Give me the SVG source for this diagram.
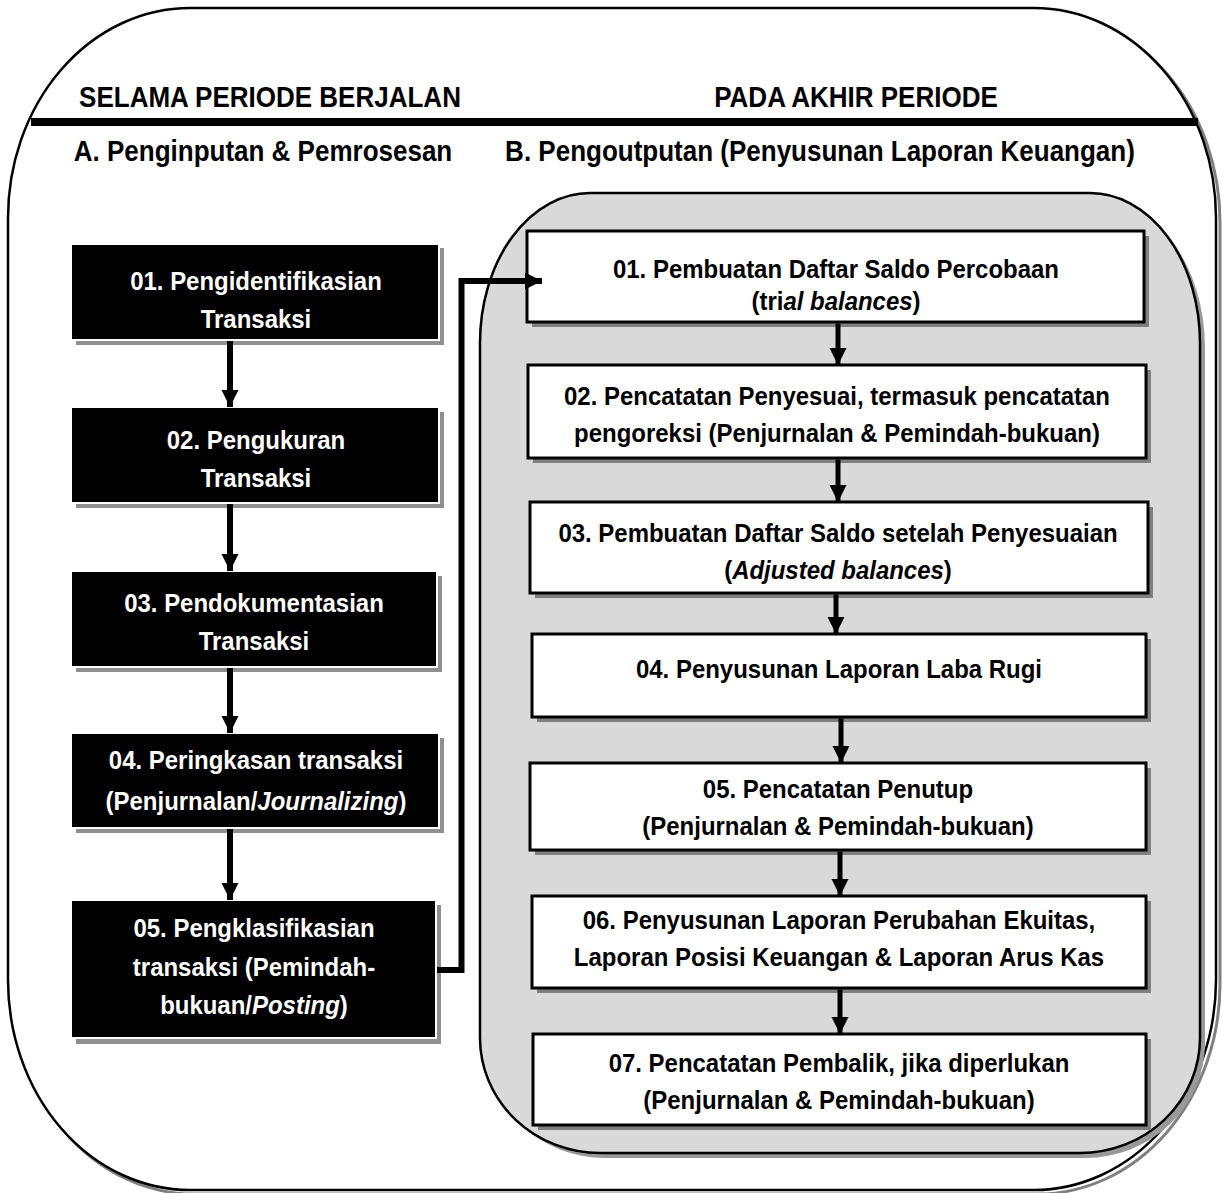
<svg xmlns="http://www.w3.org/2000/svg" width="1222" height="1193" viewBox="0 0 1222 1193">
<style>
  text { font-family: "Liberation Sans", Arial, sans-serif; font-weight: bold; text-anchor: middle; transform-box: fill-box; transform-origin: center; }
  .hdr { font-size: 29px; fill: #000; transform: scale(0.897, 1); }
  .lt { font-size: 25.5px; fill: #fff; transform: scale(0.94, 1); }
  .rt { font-size: 25.5px; fill: #000; transform: scale(0.94, 1); }
  .it { font-style: italic; }
  .lbox { fill: #000; stroke: #fff; stroke-width: 2; }
  .lsh { fill: #8f8f8f; }
  .rbox { fill: #fff; stroke: #000; stroke-width: 3; }
  .rsh { fill: #7f7f7f; }
  .conn { fill: none; stroke: #000; stroke-width: 6; }
  .conn2 { fill: none; stroke: #000; stroke-width: 5; }
</style>
<defs>
  <marker id="ah" markerUnits="userSpaceOnUse" markerWidth="18" markerHeight="18" refX="17" refY="8.5" orient="auto">
    <path d="M0,0 L17,8.5 L0,17 Z" fill="#000"/>
  </marker>
</defs>

<g id="frame">
  <rect x="12" y="12" width="1208" height="1182" rx="182" ry="210" fill="none" stroke="#808080" stroke-width="3"/>
  <rect x="8" y="8" width="1208" height="1182" rx="182" ry="210" fill="#fff" stroke="#000" stroke-width="2.5"/>
  <rect x="31" y="118" width="1167" height="8" fill="#000"/>
  <text class="hdr" x="270" y="107">SELAMA PERIODE BERJALAN</text>
  <text class="hdr" x="856" y="107">PADA AKHIR PERIODE</text>
  <text class="hdr" x="263" y="161">A.  Penginputan &amp; Pemrosesan</text>
  <text class="hdr" x="820" y="161">B. Pengoutputan (Penyusunan Laporan Keuangan)</text>
</g>

<g id="panel">
  <path d="M595,198 H1095 A110,150 0 0 1 1205,348 V1043 A120,115 0 0 1 1085,1158 H605 A120,115 0 0 1 485,1043 V348 A110,150 0 0 1 595,198 Z" fill="#999"/>
  <path d="M590,193 H1090 A110,150 0 0 1 1200,343 V1038 A120,115 0 0 1 1080,1153 H600 A120,115 0 0 1 480,1038 V343 A110,150 0 0 1 590,193 Z" fill="#d9d9d9" stroke="#000" stroke-width="2.5"/>
</g>

<g id="a01">
  <rect class="lsh" x="76" y="248" width="368" height="97"/>
  <rect class="lbox" x="71" y="244" width="368" height="96"/>
  <text class="lt" x="256" y="290">01. Pengidentifikasian</text>
  <text class="lt" x="256" y="328">Transaksi</text>
</g>
<g id="a02">
  <rect class="lsh" x="76" y="412" width="368" height="96"/>
  <rect class="lbox" x="71" y="407" width="368" height="96"/>
  <text class="lt" x="256" y="449">02. Pengukuran</text>
  <text class="lt" x="256" y="487">Transaksi</text>
</g>
<g id="a03">
  <rect class="lsh" x="76" y="576" width="366" height="96"/>
  <rect class="lbox" x="71" y="571" width="366" height="96"/>
  <text class="lt" x="254" y="612">03. Pendokumentasian</text>
  <text class="lt" x="254" y="650">Transaksi</text>
</g>
<g id="a04">
  <rect class="lsh" x="76" y="738" width="368" height="95"/>
  <rect class="lbox" x="71" y="733" width="368" height="95"/>
  <text class="lt" x="256" y="769">04. Peringkasan transaksi</text>
  <text class="lt" x="256" y="810">(Penjurnalan/<tspan class="it">Journalizing</tspan>)</text>
</g>
<g id="a05">
  <rect class="lsh" x="76" y="905" width="365" height="139"/>
  <rect class="lbox" x="71" y="900" width="365" height="138"/>
  <text class="lt" x="254" y="937">05. Pengklasifikasian</text>
  <text class="lt" x="254" y="976">transaksi (Pemindah-</text>
  <text class="lt" x="254" y="1014">bukuan/<tspan class="it">Posting</tspan>)</text>
</g>

<g id="b01">
  <rect class="rsh" x="532" y="236" width="617" height="91"/>
  <rect class="rbox" x="527" y="231" width="617" height="91"/>
  <text class="rt" x="836" y="278">01. Pembuatan Daftar Saldo Percobaan</text>
  <text class="rt" x="836" y="310">(tri<tspan class="it">al balances</tspan>)</text>
</g>
<g id="b02">
  <rect class="rsh" x="533" y="370" width="618" height="93"/>
  <rect class="rbox" x="528" y="365" width="618" height="93"/>
  <text class="rt" x="837" y="405">02. Pencatatan Penyesuai, termasuk pencatatan</text>
  <text class="rt" x="837" y="442">pengoreksi (Penjurnalan &amp; Pemindah-bukuan)</text>
</g>
<g id="b03">
  <rect class="rsh" x="535" y="507" width="618" height="91"/>
  <rect class="rbox" x="530" y="502" width="618" height="91"/>
  <text class="rt" x="838" y="542">03. Pembuatan Daftar Saldo setelah Penyesuaian</text>
  <text class="rt" x="838" y="579">(<tspan class="it">Adjusted balances</tspan>)</text>
</g>
<g id="b04">
  <rect class="rsh" x="537" y="639" width="614" height="83"/>
  <rect class="rbox" x="532" y="634" width="614" height="83"/>
  <text class="rt" x="839" y="678">04. Penyusunan Laporan Laba Rugi</text>
</g>
<g id="b05">
  <rect class="rsh" x="535" y="768" width="616" height="87"/>
  <rect class="rbox" x="530" y="763" width="616" height="87"/>
  <text class="rt" x="838" y="798">05. Pencatatan Penutup</text>
  <text class="rt" x="838" y="835">(Penjurnalan &amp; Pemindah-bukuan)</text>
</g>
<g id="b06">
  <rect class="rsh" x="537" y="901" width="614" height="92"/>
  <rect class="rbox" x="532" y="896" width="614" height="92"/>
  <text class="rt" x="839" y="929">06. Penyusunan Laporan Perubahan Ekuitas,</text>
  <text class="rt" x="839" y="966">Laporan Posisi Keuangan &amp; Laporan Arus Kas</text>
</g>
<g id="b07">
  <rect class="rsh" x="538" y="1039" width="613" height="91"/>
  <rect class="rbox" x="533" y="1034" width="613" height="91"/>
  <text class="rt" x="839" y="1072">07. Pencatatan Pembalik, jika diperlukan</text>
  <text class="rt" x="839" y="1109">(Penjurnalan &amp; Pemindah-bukuan)</text>
</g>

<g id="connectors">
  <line class="conn" x1="230" y1="341" x2="230" y2="407" marker-end="url(#ah)"/>
  <line class="conn" x1="230" y1="504" x2="230" y2="571" marker-end="url(#ah)"/>
  <line class="conn" x1="230" y1="668" x2="230" y2="733" marker-end="url(#ah)"/>
  <line class="conn" x1="230" y1="829" x2="230" y2="900" marker-end="url(#ah)"/>
  <path class="conn" d="M437,970 H461.5 V281 H542" marker-end="url(#ah)"/>
  <line class="conn2" x1="838" y1="323.5" x2="838" y2="365" marker-end="url(#ah)"/>
  <line class="conn2" x1="838" y1="459.5" x2="838" y2="502" marker-end="url(#ah)"/>
  <line class="conn2" x1="836" y1="594.5" x2="836" y2="634" marker-end="url(#ah)"/>
  <line class="conn2" x1="841" y1="718.5" x2="841" y2="763" marker-end="url(#ah)"/>
  <line class="conn2" x1="840" y1="851.5" x2="840" y2="896" marker-end="url(#ah)"/>
  <line class="conn2" x1="840" y1="989.5" x2="840" y2="1034" marker-end="url(#ah)"/>
</g>
</svg>
